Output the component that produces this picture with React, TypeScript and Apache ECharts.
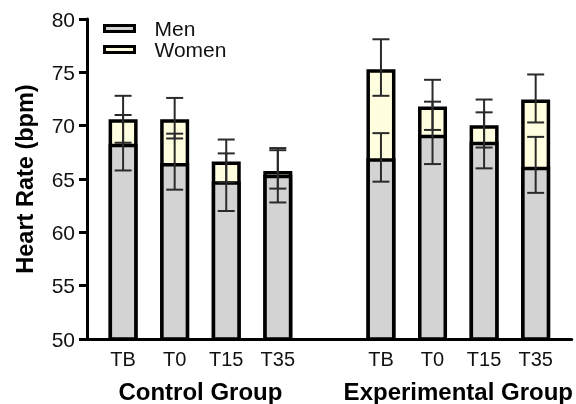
import React, { useEffect, useRef } from "react";
import * as echarts from "echarts";

const categories = ["TB", "T0", "T15", "T35"];
const groupNames = ["Control Group", "Experimental Group"];
const groupCenters = [2.5, 7.5];
const positions = [1, 2, 3, 4, 6, 7, 8, 9];

const menMean = [68.3, 66.5, 64.8, 65.4, 66.95, 69.15, 68.5, 66.15];
const menLow = [65.8, 64.0, 62.0, 62.8, 64.75, 66.4, 66.0, 63.7];
const menHigh = [71.0, 69.25, 67.4, 67.7, 69.3, 72.25, 71.25, 68.95];

const womenMean = [70.6, 70.6, 66.65, 65.75, 75.3, 71.8, 70.05, 72.45];
const womenLow = [68.4, 68.8, 64.7, 64.1, 72.8, 69.6, 67.95, 70.3];
const womenHigh = [72.8, 72.6, 68.7, 67.9, 78.1, 74.3, 72.45, 74.8];

const FONT = "'Liberation Sans', Arial, Helvetica, sans-serif";

function errorSeries(name: string, low: number[], high: number[]) {
  return {
    name,
    type: "custom",
    z: 10,
    data: positions.map((p, i) => [p, low[i], high[i]]),
    encode: { x: 0, y: [1, 2] },
    renderItem: (params: any, api: any) => {
      const x = api.value(0);
      const lo = api.coord([x, api.value(1)]);
      const hi = api.coord([x, api.value(2)]);
      const w = 8.5;
      const style = { stroke: "#2a2a2a", lineWidth: 2 };
      return {
        type: "group",
        children: [
          { type: "line", shape: { x1: lo[0], y1: lo[1], x2: hi[0], y2: hi[1] }, style },
          { type: "line", shape: { x1: hi[0] - w, y1: hi[1], x2: hi[0] + w, y2: hi[1] }, style },
          { type: "line", shape: { x1: lo[0] - w, y1: lo[1], x2: lo[0] + w, y2: lo[1] }, style },
        ],
      };
    },
  };
}

export default function App() {
  const ref = useRef<HTMLDivElement>(null);
  useEffect(() => {
    document.body.style.margin = "0";
    const chart = echarts.init(ref.current!, undefined, { renderer: "svg" });
    chart.setOption({
      animation: false,
      textStyle: { fontFamily: FONT },
      grid: { left: 87, right: 3, top: 19, bottom: 65, containLabel: false },
      legend: {
        data: ["Men", "Women"],
        orient: "vertical",
        left: 103,
        top: 18,
        padding: 0,
        itemWidth: 30,
        itemHeight: 6,
        itemGap: 0,
        icon: "rect",
        itemStyle: { borderWidth: 3, borderColor: "#000" },
        textStyle: { fontSize: 21, lineHeight: 21, color: "#111", fontFamily: FONT, padding: [0, 0, 0, 15] },
      },
      xAxis: [
        {
          type: "value",
          min: 0.3,
          max: 9.7,
          axisLine: { show: true, lineStyle: { color: "#000", width: 3 } },
          axisTick: { show: false },
          splitLine: { show: false },
          axisLabel: {
            customValues: positions,
            formatter: (v: number) => {
              const i = positions.indexOf(v);
              return i >= 0 ? categories[i % categories.length] : "";
            },
            fontSize: 20,
            color: "#111",
            margin: 10,
            fontFamily: FONT,
          },
        },
        {
          type: "value",
          min: 0.3,
          max: 9.7,
          position: "bottom",
          offset: 30,
          axisLine: { show: false },
          axisTick: { show: false },
          splitLine: { show: false },
          axisLabel: {
            customValues: groupCenters,
            formatter: (v: number) => {
              const i = groupCenters.indexOf(v);
              return i >= 0 ? groupNames[i] : "";
            },
            fontSize: 24,
            fontWeight: "bold",
            color: "#000",
            margin: 10,
            fontFamily: FONT,
          },
        },
      ],
      yAxis: {
        type: "value",
        min: 50,
        max: 80,
        interval: 5,
        name: "Heart Rate (bpm)",
        nameLocation: "middle",
        nameGap: 50,
        nameTextStyle: { fontSize: 23.5, fontWeight: "bold", color: "#000", fontFamily: FONT },
        axisLine: { show: true, lineStyle: { color: "#000", width: 3 } },
        axisTick: { show: true, length: 8, lineStyle: { color: "#000", width: 3 } },
        splitLine: { show: false },
        axisLabel: { fontSize: 21, color: "#111", margin: 12, fontFamily: FONT },
      },
      series: [
        {
          name: "Women",
          type: "bar",
          barWidth: 29,
          barGap: "-100%",
          data: positions.map((p, i) => [p, womenMean[i]]),
          itemStyle: { color: "#ffffe0", borderColor: "#000", borderWidth: 3.5 },
          z: 2,
        },
        {
          name: "Men",
          type: "bar",
          barWidth: 29,
          barGap: "-100%",
          data: positions.map((p, i) => [p, menMean[i]]),
          itemStyle: { color: "#d3d3d3", borderColor: "#000", borderWidth: 3.5 },
          z: 3,
        },
        errorSeries("Women SD", womenLow, womenHigh),
        errorSeries("Men SD", menLow, menHigh),
      ],
    });
    return () => chart.dispose();
  }, []);
  return (
    <div
      ref={ref}
      style={{ width: 576, height: 404, position: "fixed", left: 0, top: 0 }}
    />
  );
}
